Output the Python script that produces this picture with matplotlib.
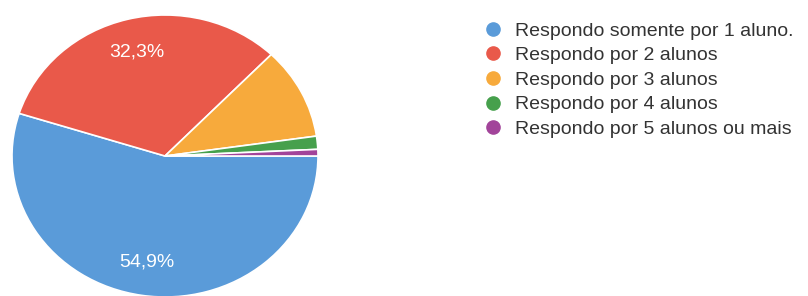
import matplotlib.pyplot as plt
from matplotlib.lines import Line2D

labels = ["Respondo somente por 1 aluno.", "Respondo por 2 alunos",
          "Respondo por 3 alunos", "Respondo por 4 alunos",
          "Respondo por 5 alunos ou mais"]
counts = [73, 43, 14, 2, 1]
colors = ["#5a9bd9", "#e9594a", "#f7aa3c", "#46a04c", "#a2449a"]

plt.rcParams['font.family'] = ['Liberation Sans', 'DejaVu Sans']

W, H = 808, 296
fig = plt.figure(figsize=(W / 100, H / 100), dpi=100)

# pie is slightly squashed in the scan: 306 px wide, 282 px tall
ax = fig.add_axes([12 / W, (H - 297) / H, 306 / W, 282 / H])


def pct(p):
    return f"{p:.1f}%".replace('.', ',') if p > 15 else ''


wedges, texts, autotexts = ax.pie(counts, colors=colors, startangle=0, counterclock=False,
                                  autopct=pct, pctdistance=0.76,
                                  wedgeprops=dict(edgecolor="white", linewidth=1.2))
for t in autotexts:
    t.set_color("white")
    t.set_fontsize(14)
ax.set_aspect('auto')
ax.set_xlim(-1, 1)
ax.set_ylim(-1, 1)

handles = [Line2D([], [], linestyle='none', marker='o', markersize=9.5,
                  markerfacecolor=c, markeredgecolor=c) for c in colors]
fig.legend(handles, labels, loc='upper left', bbox_to_anchor=(483 / W, 1 - 22 / H),
           frameon=False, fontsize=14, handlelength=1.0, handletextpad=0.65,
           labelspacing=0.36, borderaxespad=0, borderpad=0, labelcolor='#333333')

fig.savefig("out.png", dpi=100)
